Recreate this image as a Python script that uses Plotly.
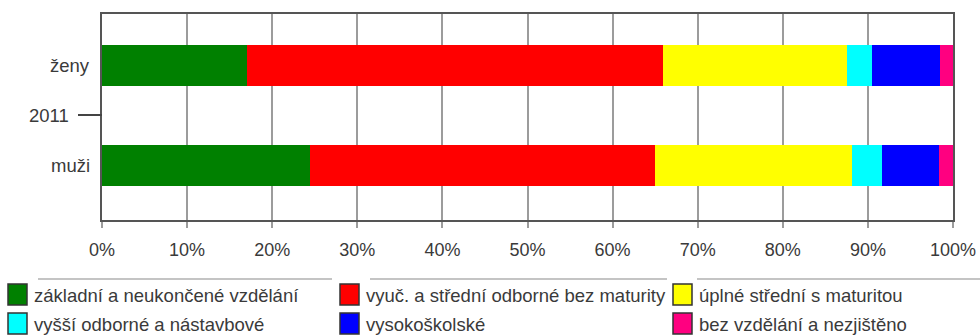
import plotly.graph_objects as go

# Categories on the y axis (bottom to top); "2011" is an empty separator row
groups = ["muži", "2011", "ženy"]

# Share of each education level (%), ordered as [muži, 2011, ženy]
series_names = [
    "základní a neukončené vzdělání",
    "vyuč. a střední odborné bez maturity",
    "úplné střední s maturitou",
    "vyšší odborné a nástavbové",
    "vysokoškolské",
    "bez vzdělání a nezjištěno",
]
zakladni = [24.4, None, 17.0]
vyucni = [40.6, None, 48.9]
maturita = [23.1, None, 21.6]
vyssi = [3.5, None, 3.0]
vysokoskolske = [6.8, None, 8.0]
bez_vzdelani = [1.6, None, 1.5]
series_values = [zakladni, vyucni, maturita, vyssi, vysokoskolske, bez_vzdelani]
series_colors = ["#008000", "#FF0000", "#FFFF00", "#00FFFF", "#0000FF", "#FF0080"]

x_ticks = list(range(0, 101, 10))
x_tick_labels = [f"{v}%" for v in x_ticks]

FONT = "Liberation Sans, Arial, sans-serif"
TEXT = "#3a3a3a"

fig = go.Figure()
for name, vals, col in zip(series_names, series_values, series_colors):
    fig.add_trace(go.Bar(
        y=groups, x=vals, name=name, orientation="h",
        marker=dict(color=col, line=dict(width=0)),
        width=0.82, showlegend=False,
    ))

# plot-area geometry (px) used to place the hand-built legend
L, R, T, B = 102, 953, 14, 220
W, H = R - L, B - T


def px_x(x):
    return (x - L) / W


def px_y(y):
    return (B - y) / H


year_row = groups.index("2011")

shapes = []
annotations = []

# tick mark for the year row
shapes.append(dict(type="line", xref="paper", yref="y",
                   x0=px_x(78), x1=0, y0=year_row, y1=year_row,
                   line=dict(color="#444", width=2)))

# group labels
for g in ["ženy", "muži"]:
    annotations.append(dict(xref="paper", yref="y", x=0, y=groups.index(g), text=g,
                            showarrow=False, xanchor="right", xshift=-10,
                            font=dict(family=FONT, size=18.5, color=TEXT)))
annotations.append(dict(xref="paper", yref="y", x=px_x(71), y=year_row, text="2011",
                        showarrow=False, xanchor="right",
                        font=dict(family=FONT, size=18.5, color=TEXT)))

# separator lines above the legend
for x0, x1 in [(38, 332), (370, 667), (697, 980)]:
    shapes.append(dict(type="line", xref="paper", yref="paper",
                       x0=px_x(x0), x1=px_x(x1), y0=px_y(279), y1=px_y(279),
                       line=dict(color="#c4c4c4", width=2)))

# legend: 3 columns x 2 rows
col_x = [8, 340, 673]
row_y = [284, 313]
for i, (name, col) in enumerate(zip(series_names, series_colors)):
    cx = col_x[i % 3]
    ry = row_y[i // 3]
    shapes.append(dict(type="rect", xref="paper", yref="paper",
                       x0=px_x(cx), x1=px_x(cx + 19),
                       y0=px_y(ry), y1=px_y(ry + 21),
                       fillcolor=col, line=dict(color="#333", width=1.5)))
    annotations.append(dict(xref="paper", yref="paper",
                            x=px_x(cx + 24), y=px_y(ry + 11), text=name,
                            showarrow=False, xanchor="left", yanchor="middle",
                            font=dict(family=FONT, size=18.5, color=TEXT)))

fig.update_layout(
    barmode="stack",
    width=980, height=335,
    margin=dict(l=L, r=980 - R, t=T, b=335 - B),
    paper_bgcolor="white", plot_bgcolor="white",
    bargap=0,
    shapes=shapes,
    annotations=annotations,
    xaxis=dict(
        range=[0, 100], tickmode="array", tickvals=x_ticks, ticktext=x_tick_labels,
        showgrid=True, gridcolor="#9c9c9c", gridwidth=1.5,
        showline=True, linecolor="#555", linewidth=2, mirror=True,
        ticks="outside", ticklen=6, tickcolor="#9c9c9c", tickwidth=1.5,
        tickfont=dict(family=FONT, size=18, color=TEXT),
        ticklabelstandoff=6,
        zeroline=False, fixedrange=True, automargin=False,
    ),
    yaxis=dict(
        type="category", categoryorder="array", categoryarray=groups,
        range=[-1.1, 3.02], showticklabels=False, ticks="",
        showgrid=False, zeroline=False,
        showline=True, linecolor="#555", linewidth=2, mirror=True,
        fixedrange=True, automargin=False,
    ),
)

fig.write_html("out.html")
